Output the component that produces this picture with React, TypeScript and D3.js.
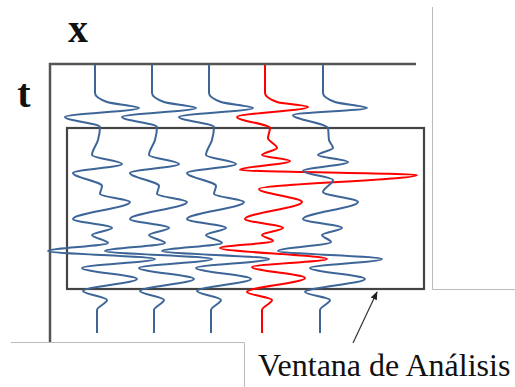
import React from "react";
import * as d3 from "d3";

// trace numbers (positions along x)
const traceIds = [1, 2, 3, 4, 5];
const traceWave = ["blue", "blue", "blue", "red", "fifth"];

// time samples (ms) and amplitudes for each waveform
const blueTimes = [0, 28, 37, 43, 52, 62, 75, 90, 99, 108, 121, 129, 137, 154, 163, 170, 178, 186, 194, 203, 214, 226, 235, 245, 268];
const blueAmps = [0, 0, 12, 44, -30, 5, 3, -3, 27, -22, 7, 5, 35, -22, 17, -3, 13, -47, 60, -13, 42, -12, 12, 2, 2];

const redTimes = [0, 28, 37, 42, 52, 63, 73, 83, 90, 96, 105, 110, 124, 137, 154, 163, 170, 176, 183, 194, 202, 213, 227, 235, 245, 268];
const redAmps = [-1, -1, 11, 42, -29, 4, 2, 11, -4, 24, -26, 151, -7, 36, -21, 17, -4, 7, -46, 61, -14, 39, -19, 6, -4, -4];

const fifthTimes = [0, 28, 37, 43, 50, 63, 75, 83, 90, 97, 106, 115, 127, 137, 154, 163, 170, 177, 186, 194, 203, 214, 227, 235, 245, 268];
const fifthAmps = [0, 0, 12, 44, -30, 5, 6, 10, -5, 25, -20, 10, 0, 35, -20, 19, -1, 8, -45, 59, -13, 42, -18, 7, -3, -3];

const axisXLabel = "x";
const axisTLabel = "t";
const windowLabel = "Ventana de Análisis";

const BLUE = "#3d6597";
const RED = "#ff0000";

export default function App() {
  const xTrace = d3.scaleLinear().domain([1, 5]).range([95, 323]);
  const yTime = d3.scaleLinear().domain([0, 268]).range([65, 333]);
  const amp = d3.scaleLinear().domain([-100, 100]).range([-100, 100]);

  const waves: Record<string, { t: number[]; a: number[] }> = {
    blue: { t: blueTimes, a: blueAmps },
    red: { t: redTimes, a: redAmps },
    fifth: { t: fifthTimes, a: fifthAmps },
  };

  const paths = traceIds.map((id, i) => {
    const w = waves[traceWave[i]];
    const pts: [number, number][] = w.t.map((t, k) => [xTrace(id) + amp(w.a[k]), yTime(t)]);
    const line = d3
      .line<[number, number]>()
      .x((d) => d[0])
      .y((d) => d[1])
      .curve(d3.curveMonotoneY);
    return { d: line(pts) || "", color: traceWave[i] === "red" ? RED : BLUE, id };
  });

  const axisColor = "#555";

  return (
    <svg
      width={515}
      height={387}
      style={{ position: "absolute", left: 0, top: 0, background: "#fff" }}
      fontFamily="'Liberation Serif', 'Times New Roman', serif"
    >
      <defs>
        <marker id="arrowHead" viewBox="0 0 10 10" refX="9" refY="5" markerWidth="7" markerHeight="7" orient="auto">
          <path d="M0,1 L10,5 L0,9 z" fill="#222" />
        </marker>
      </defs>
      {/* light frame lines */}
      <path d="M432.5,7 L432.5,289.5 L515,289.5" fill="none" stroke="#bbb" strokeWidth={1} />
      <path d="M11,342.5 L244.5,342.5 L244.5,387" fill="none" stroke="#bbb" strokeWidth={1} />

      {/* axes */}
      <path d="M416,64 L50,64 L50,342" fill="none" stroke={axisColor} strokeWidth={2.5} />

      {/* analysis window */}
      <rect x={67} y={128} width={357} height={161} fill="none" stroke="#444" strokeWidth={2.2} />

      {paths.map((p) => (
        <path key={p.id} d={p.d} fill="none" stroke={p.color} strokeWidth={2} strokeLinejoin="round" />
      ))}

      <text x={78} y={42} fontSize={40} fontWeight="bold" textAnchor="middle" fill="#111">{axisXLabel}</text>
      <text x={24} y={107} fontSize={40} fontWeight="bold" textAnchor="middle" fill="#111">{axisTLabel}</text>

      <line x1={353} y1={343} x2={377} y2={292} stroke="#333" strokeWidth={1.2} markerEnd="url(#arrowHead)" />
      <text x={258} y={376} fontSize={32} fill="#111">{windowLabel}</text>
    </svg>
  );
}
